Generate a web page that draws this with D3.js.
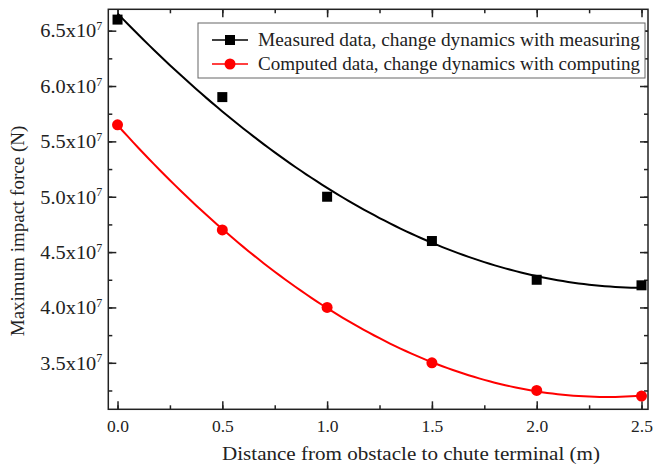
<!DOCTYPE html>
<html>
<head>
<meta charset="utf-8">
<script src="https://cdn.jsdelivr.net/npm/d3@7"></script>
<style>
  body { margin:0; background:#fff; }
  text { font-family:"Liberation Serif","Times New Roman",serif; fill:#222; }
  .domain { display:none; }
  .tick line { stroke:#222; stroke-width:1.5px; }
</style>
</head>
<body>
<div id="canvas"></div>
<script>
// data (force in units of 1e7 N)
var distance = [0, 0.5, 1.0, 1.5, 2.0, 2.5];
var measured = [6.6, 5.9, 5.0, 4.6, 4.25, 4.2];
var computed = [5.65, 4.7, 4.0, 3.5, 3.25, 3.2];
var xTicks = [0, 0.5, 1.0, 1.5, 2.0, 2.5];
var yTicks = [3.5, 4.0, 4.5, 5.0, 5.5, 6.0, 6.5];
var legendLabels = ['Measured data, change dynamics with measuring',
                    'Computed data, change dynamics with computing'];

var W = 654, H = 469;
var m = {l:108.3, r:648, t:9.3, b:409.3};

var svg = d3.select('#canvas').append('svg')
    .attr('width', W).attr('height', H);

var x = d3.scaleLinear().domain([-0.044, 2.531]).range([m.l, m.r]);
var y = d3.scaleLinear().domain([3.08, 6.693]).range([m.b, m.t]);

// minor tick positions
var xMinor = d3.range(0, 2.51, 0.25);
var yMinor = d3.range(3.25, 6.6, 0.25);

// bottom
svg.append('g').attr('transform','translate(0,'+m.b+')')
    .call(d3.axisBottom(x).tickValues(xMinor).tickSize(-4).tickFormat(''));
var gb = svg.append('g').attr('transform','translate(0,'+m.b+')')
    .call(d3.axisBottom(x).tickValues(xTicks).tickSize(-8).tickPadding(19).tickFormat(d3.format('.1f')));
gb.selectAll('text').style('font-size','17.5px').attr('dy','0.2em');
// top
svg.append('g').attr('transform','translate(0,'+m.t+')')
    .call(d3.axisTop(x).tickValues(xMinor).tickSize(-4).tickFormat(''));
svg.append('g').attr('transform','translate(0,'+m.t+')')
    .call(d3.axisTop(x).tickValues(xTicks).tickSize(-8).tickFormat(''));
// left
svg.append('g').attr('transform','translate('+m.l+',0)')
    .call(d3.axisLeft(y).tickValues(yMinor).tickSize(-4).tickFormat(''));
var gl = svg.append('g').attr('transform','translate('+m.l+',0)')
    .call(d3.axisLeft(y).tickValues(yTicks).tickSize(-8).tickPadding(6).tickFormat(''));
gl.selectAll('.tick text').each(function(d){
    var t = d3.select(this).style('font-size','18px').attr('dy','0.35em');
    t.append('tspan').attr('textLength', 56).attr('lengthAdjust','spacingAndGlyphs')
        .text(d.toFixed(1) + 'x10');
    t.append('tspan').attr('dy','-0.6em').style('font-size','12px').text('7');
});
// right
svg.append('g').attr('transform','translate('+m.r+',0)')
    .call(d3.axisRight(y).tickValues(yMinor).tickSize(-4).tickFormat(''));
svg.append('g').attr('transform','translate('+m.r+',0)')
    .call(d3.axisRight(y).tickValues(yTicks).tickSize(-8).tickFormat(''));

// frame
svg.append('rect')
    .attr('x', m.l).attr('y', m.t)
    .attr('width', m.r-m.l).attr('height', m.b-m.t)
    .style('fill','none').style('stroke','#222').style('stroke-width','1.5px');

// quadratic least squares fit, as in the original
function quadFit(xs, ys){
    var n = xs.length, s = [0,0,0,0,0], t = [0,0,0];
    for (var i = 0; i < n; i++){
        var p = 1;
        for (var k = 0; k < 5; k++){ s[k] += p; if (k < 3) t[k] += p*ys[i]; p *= xs[i]; }
    }
    var A = [[s[0],s[1],s[2],t[0]],[s[1],s[2],s[3],t[1]],[s[2],s[3],s[4],t[2]]];
    for (var c = 0; c < 3; c++){
        for (var r = c+1; r < 3; r++){
            var f = A[r][c]/A[c][c];
            for (var j = c; j < 4; j++) A[r][j] -= f*A[c][j];
        }
    }
    var coef = [0,0,0];
    for (var r2 = 2; r2 >= 0; r2--){
        var v = A[r2][3];
        for (var j2 = r2+1; j2 < 3; j2++) v -= A[r2][j2]*coef[j2];
        coef[r2] = v/A[r2][r2];
    }
    return function(xv){ return coef[0] + coef[1]*xv + coef[2]*xv*xv; };
}

var line = d3.line().x(function(d){ return x(d[0]); }).y(function(d){ return y(d[1]); });
var xs = d3.range(0, 2.5001, 0.025);

var series = [
    {vals: measured, color:'#000000', shape:'square'},
    {vals: computed, color:'#ff0000', shape:'circle'}
];

series.forEach(function(s){
    var f = quadFit(distance, s.vals);
    svg.append('path')
        .attr('d', line(xs.map(function(v){ return [v, f(v)]; })))
        .style('fill','none').style('stroke', s.color).style('stroke-width','2px');
});

series.forEach(function(s){
    var pts = distance.map(function(d,i){ return [d, s.vals[i]]; });
    if (s.shape === 'square'){
        svg.selectAll(null).data(pts).enter().append('rect')
            .attr('x', function(d){ return x(d[0]) - 5; })
            .attr('y', function(d){ return y(d[1]) - 5; })
            .attr('width', 10).attr('height', 10)
            .style('fill', s.color);
    } else {
        svg.selectAll(null).data(pts).enter().append('circle')
            .attr('cx', function(d){ return x(d[0]); })
            .attr('cy', function(d){ return y(d[1]); })
            .attr('r', 5.5)
            .style('fill', s.color);
    }
});

// legend
var lg = svg.append('g');
lg.append('rect').attr('x',198).attr('y',23).attr('width',447).attr('height',55)
    .style('fill','#fff').style('stroke','#666').style('stroke-width','1px');
series.forEach(function(s, i){
    var ly = 40 + i*24;
    lg.append('line').attr('x1',212).attr('x2',248).attr('y1',ly).attr('y2',ly)
        .style('stroke', s.color).style('stroke-width','1.5px');
    if (s.shape === 'square'){
        lg.append('rect').attr('x',225).attr('y',ly-5).attr('width',10).attr('height',10).style('fill', s.color);
    } else {
        lg.append('circle').attr('cx',230).attr('cy',ly).attr('r',5.5).style('fill', s.color);
    }
    lg.append('text').attr('x',258).attr('y',ly).attr('dy','0.35em')
        .attr('textLength', 382).attr('lengthAdjust','spacingAndGlyphs')
        .style('font-size','18.5px').text(legendLabels[i]);
});

// axis titles
svg.append('text').attr('x', 222).attr('y', 460)
    .attr('textLength', 378).attr('lengthAdjust','spacingAndGlyphs')
    .style('font-size','19px')
    .text('Distance from obstacle to chute terminal (m)');
svg.append('text')
    .attr('transform','translate(24,231) rotate(-90)')
    .attr('text-anchor','middle').style('font-size','19px')
    .text('Maximum impact force (N)');
</script>
</body>
</html>
